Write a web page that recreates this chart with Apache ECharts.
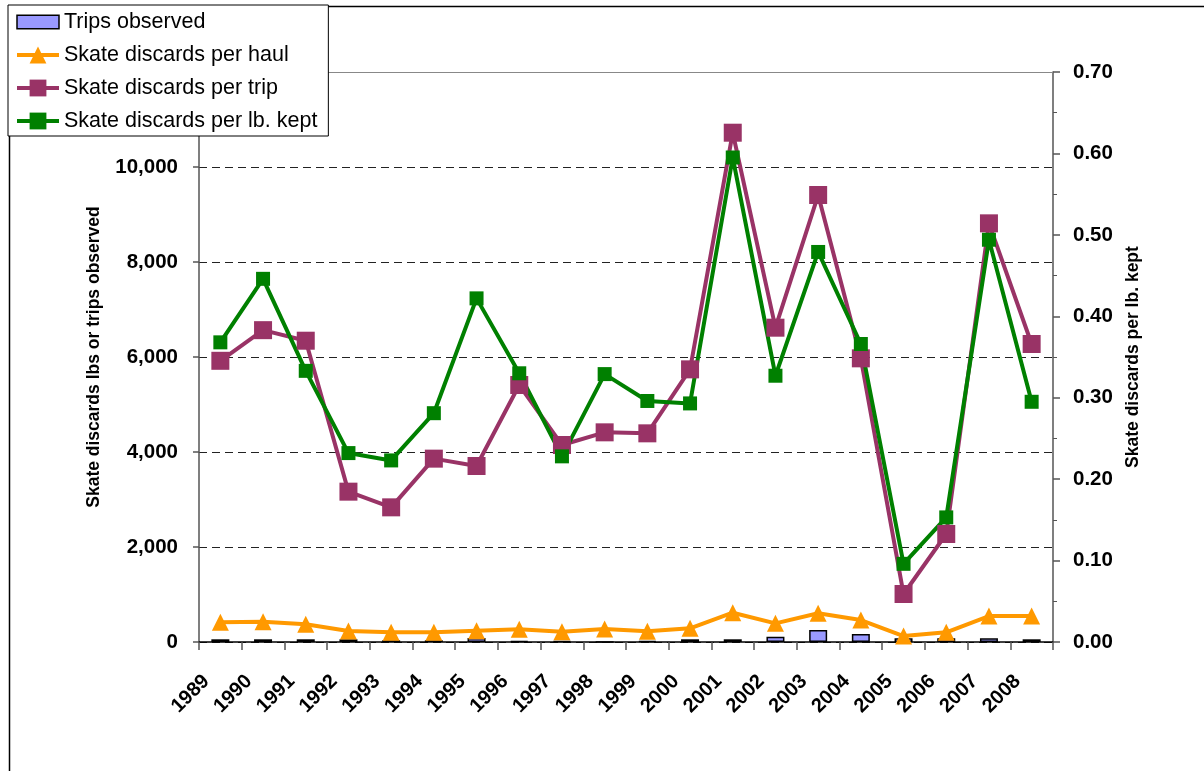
<!DOCTYPE html>
<html>
<head>
<meta charset="utf-8">
<script src="https://cdn.jsdelivr.net/npm/echarts@6/dist/echarts.min.js"></script>
<style>
  html, body { margin: 0; padding: 0; background: #fff; }
  #chart { width: 1204px; height: 771px; }
</style>
</head>
<body>
<div id="chart"></div>
<script>
// years on the category axis
var years = ['1989','1990','1991','1992','1993','1994','1995','1996','1997','1998',
             '1999','2000','2001','2002','2003','2004','2005','2006','2007','2008'];

// left axis series (lbs / trips)
var tripsObserved = [57, 57, 57, 57, 36, 36, 84, 20, 20, 0,
                     20, 57, 57, 112, 253, 168, 78, 78, 78, 57];
var discardsPerHaul = [415, 428, 372, 232, 204, 204, 239, 267, 217, 274,
                       225, 288, 617, 393, 604, 463, 126, 204, 547, 547];
var discardsPerTrip = [5920, 6565, 6343, 3165, 2835, 3860, 3705, 5410, 4147, 4414,
                       4393, 5740, 10722, 6617, 9410, 5972, 1010, 2274, 8814, 6274];

// right axis series
var discardsPerLbKept = [0.368, 0.446, 0.333, 0.232, 0.223, 0.281, 0.422, 0.330, 0.228, 0.329,
                         0.296, 0.293, 0.595, 0.327, 0.479, 0.366, 0.096, 0.153, 0.494, 0.295];

var font = 'Arial, "Liberation Sans", sans-serif';

var chart = echarts.init(document.getElementById('chart'));

var option = {
  animation: false,
  backgroundColor: '#fff',
  textStyle: { fontFamily: font },
  graphic: [{
    type: 'rect',
    left: 7, top: 4,
    shape: { width: 1300, height: 900 },
    style: { fill: 'none', stroke: '#000', lineWidth: 1.5 },
    z: -10
  }],
  legend: {
    orient: 'vertical',
    left: 8, top: 5,
    backgroundColor: '#fff',
    borderColor: '#000',
    borderWidth: 1,
    padding: [6, 11, 4, 7],
    itemGap: 11,
    itemWidth: 42,
    itemHeight: 21,
    z: 10,
    lineStyle: { width: 4 },
    textStyle: { fontSize: 21.5, color: '#000', fontFamily: font },
    data: [
      { name: 'Trips observed', icon: 'path://M0,0 h40 v13 h-40 z', itemStyle: { borderWidth: 1.5, borderColor: '#000' } },
      'Skate discards per haul', 'Skate discards per trip', 'Skate discards per lb. kept'
    ]
  },
  grid: { left: 199, right: 151, top: 72, bottom: 129 },
  xAxis: [{
    type: 'category',
    data: years,
    boundaryGap: true,
    axisLine: { lineStyle: { color: '#000', width: 1.5 } },
    axisTick: { show: true, length: 8, lineStyle: { color: '#555', width: 1.5 } },
    axisLabel: {
      rotate: 45,
      margin: 22,
      padding: [0, 20, 0, 0],
      fontSize: 20,
      fontWeight: 'bold',
      color: '#000',
      fontFamily: font,
      interval: 0
    }
  }, {
    type: 'category',
    data: years,
    position: 'top',
    axisLine: { show: true, onZero: false, lineStyle: { color: '#888', width: 1 } },
    axisTick: { show: false },
    axisLabel: { show: false }
  }],
  yAxis: [{
    type: 'value',
    min: 0, max: 12000, interval: 2000,
    name: 'Skate discards lbs or trips observed',
    nameLocation: 'middle',
    nameRotate: 90,
    nameGap: 96,
    nameTextStyle: { fontSize: 17.5, fontWeight: 'bold', color: '#000', fontFamily: font },
    axisLine: { show: true, lineStyle: { color: '#555', width: 1.5 } },
    axisTick: { show: true, length: 6, lineStyle: { color: '#555', width: 1.5 } },
    axisLabel: {
      margin: 21,
      fontSize: 20.5,
      fontWeight: 'bold',
      color: '#000',
      fontFamily: font,
      showMaxLabel: false,
      formatter: function (v) { return v.toLocaleString('en-US'); }
    },
    splitLine: { show: true, lineStyle: { color: '#222', width: 1, type: [8, 5] } }
  }, {
    type: 'value',
    min: 0, max: 0.7, interval: 0.1,
    position: 'right',
    name: 'Skate discards per lb. kept',
    nameLocation: 'middle',
    nameRotate: 90,
    nameGap: 70,
    nameTextStyle: { fontSize: 17.5, fontWeight: 'bold', color: '#000', fontFamily: font },
    axisLine: { show: true, lineStyle: { color: '#555', width: 1.5 } },
    axisTick: { show: true, length: 7, lineStyle: { color: '#555', width: 1.5 } },
    minorTick: { show: true, splitNumber: 2, length: 4, lineStyle: { color: '#555', width: 1 } },
    axisLabel: {
      margin: 20,
      fontSize: 20.5,
      fontWeight: 'bold',
      color: '#000',
      fontFamily: font,
      formatter: function (v) { return v.toFixed(2); }
    },
    splitLine: { show: false }
  }],
  series: [{
    name: 'Trips observed',
    type: 'bar',
    yAxisIndex: 0,
    barWidth: 18,
    data: tripsObserved,
    itemStyle: { color: '#9999FF', borderColor: '#000', borderWidth: 1.5 }
  }, {
    name: 'Skate discards per haul',
    type: 'line',
    yAxisIndex: 0,
    data: discardsPerHaul,
    symbol: 'triangle',
    symbolSize: 17,
    lineStyle: { color: '#FF9900', width: 4 },
    itemStyle: { color: '#FF9900' }
  }, {
    name: 'Skate discards per trip',
    type: 'line',
    yAxisIndex: 0,
    data: discardsPerTrip,
    symbol: 'rect',
    symbolSize: 18,
    lineStyle: { color: '#993366', width: 4 },
    itemStyle: { color: '#993366' }
  }, {
    name: 'Skate discards per lb. kept',
    type: 'line',
    yAxisIndex: 1,
    data: discardsPerLbKept,
    symbol: 'rect',
    symbolSize: 14,
    lineStyle: { color: '#008000', width: 4 },
    itemStyle: { color: '#008000' }
  }]
};

chart.setOption(option);
</script>
</body>
</html>
